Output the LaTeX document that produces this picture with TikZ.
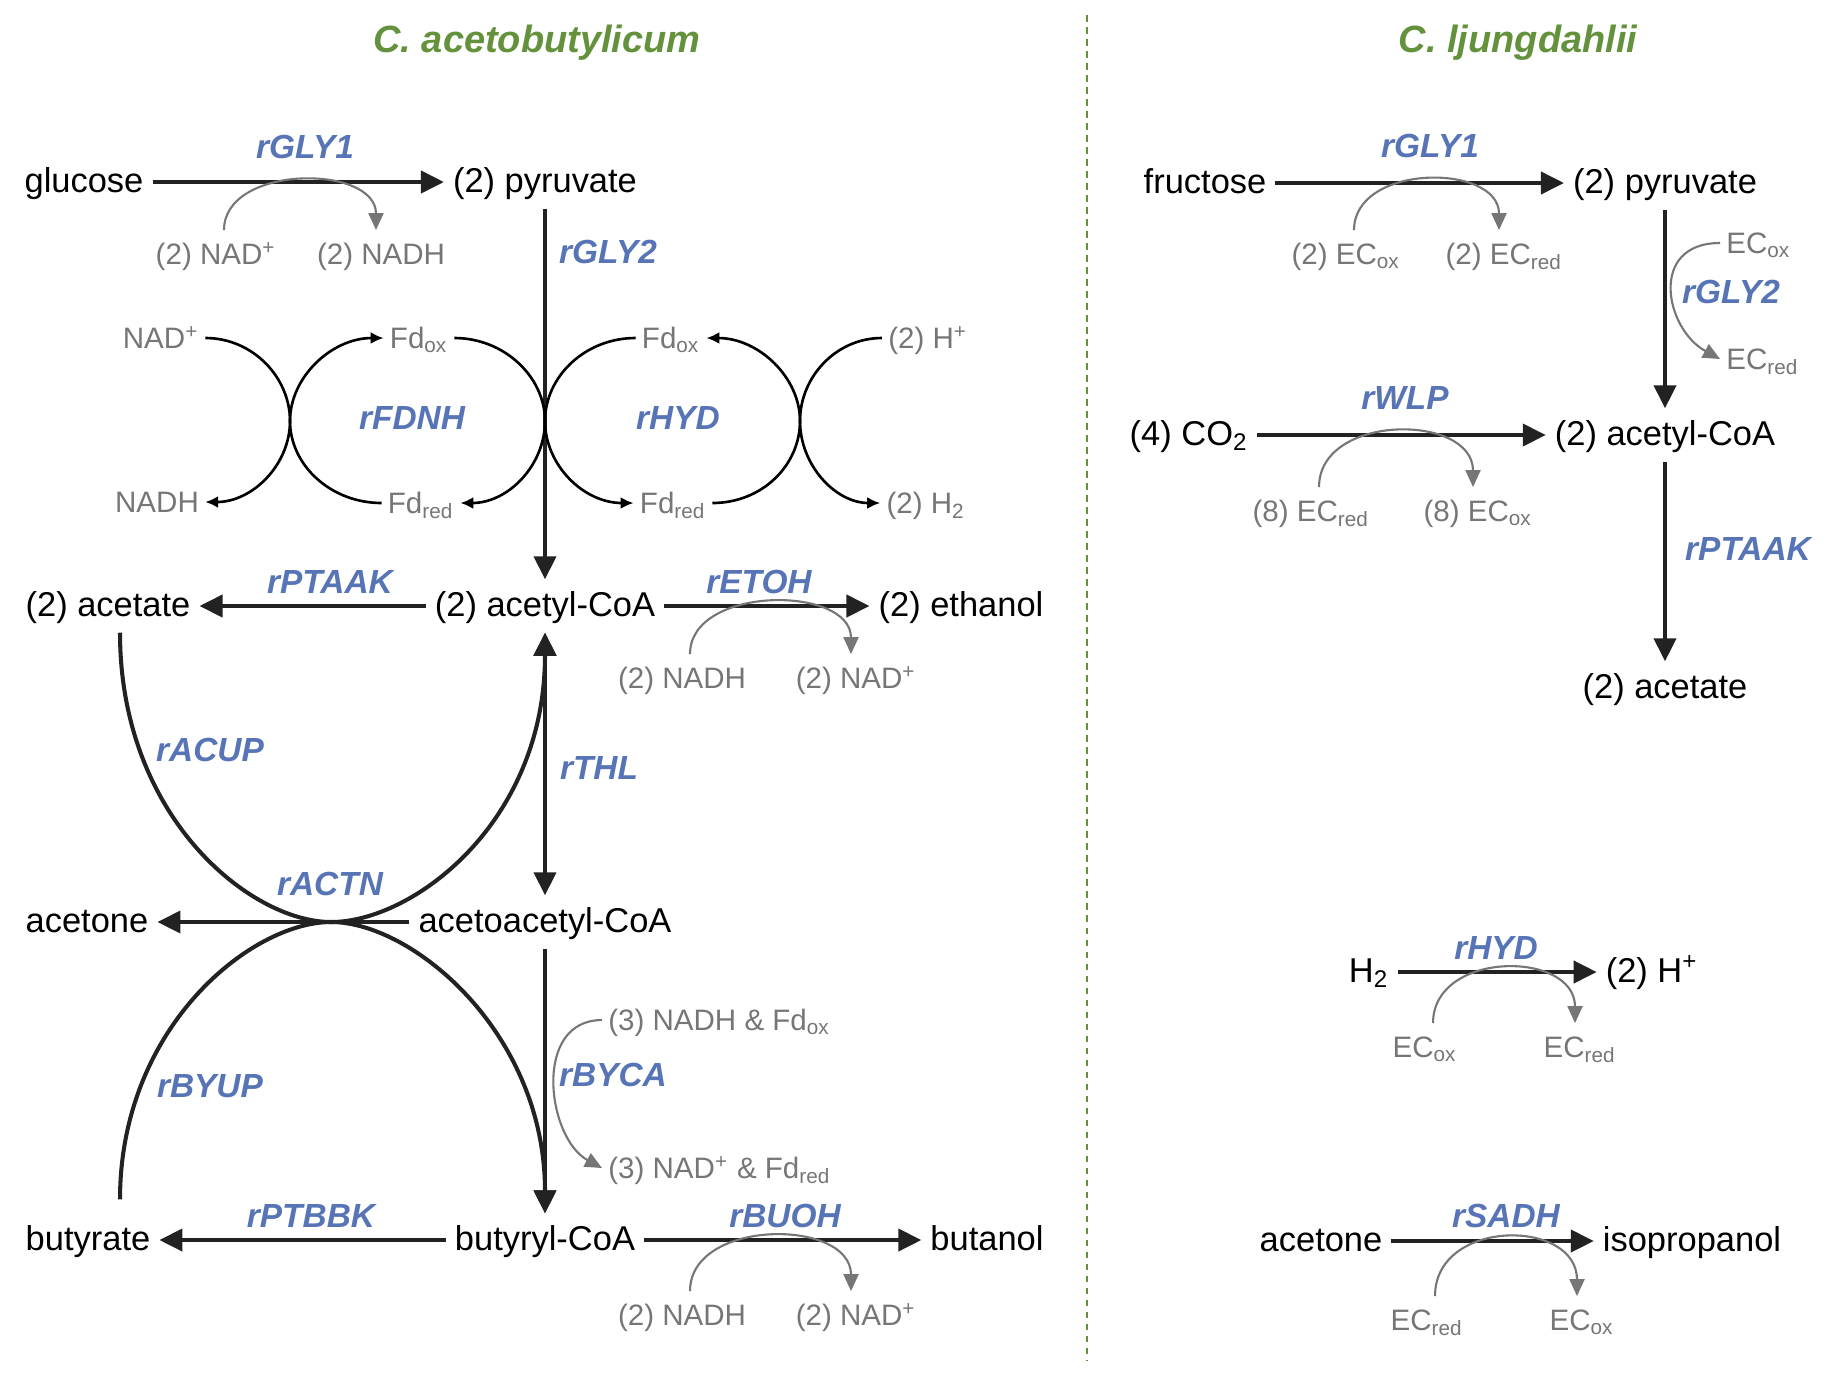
\documentclass[tikz,border=0pt]{standalone}
\usepackage{fontspec}
\setmainfont{Liberation Sans}
\usepackage{xcolor}
\definecolor{rxnblue}{RGB}{86,116,182}
\definecolor{orggreen}{RGB}{100,146,60}
\definecolor{cofgray}{RGB}{118,118,118}
\definecolor{rxnblack}{RGB}{34,34,34}
\usepackage{tikz}
\usetikzlibrary{arrows.meta,positioning,calc}

\tikzset{
  met/.style={inner sep=2.4pt, text height=0.8em, text depth=0.2em, font=\fontsize{9.8}{11}\selectfont},
  cof/.style={inner sep=1.6pt, text height=0.8em, text depth=0.2em, text=cofgray, font=\fontsize{8.4}{10}\selectfont},
  enz/.style={inner sep=0pt, text=rxnblue, font=\fontsize{9.5}{11}\selectfont\bfseries\itshape},
  orgtitle/.style={inner sep=0pt, text=orggreen, font=\fontsize{10.8}{12}\selectfont\bfseries\itshape},
  rxn/.style={draw=rxnblack, line width=1.15pt, >={Triangle[length=0.23cm,width=0.22cm]}, ->},
  cyc/.style={draw=black, line width=0.75pt, -{Latex[length=0.13cm,width=0.12cm]}},
  cofarr/.style={draw=cofgray, line width=0.6pt, -{Triangle[length=0.17cm,width=0.15cm]}},
}

\begin{document}
\begin{tikzpicture}[x=0.01cm,y=-0.01cm]
\fill[white] (0,0) rectangle (1831,1375);
\useasboundingbox (0,0) rectangle (1831,1375);

% titles and divider
\node[orgtitle] (ttlL) at (537,43) {C. acetobutylicum};
\node[orgtitle] (ttlR) at (1518,43) {C. ljungdahlii};
\draw[orggreen, line width=0.6pt, dash pattern=on 0.065cm off 0.055cm] (1087,15) -- (1087,1360);

% C. acetobutylicum metabolites
\node[met] (glc) at (84,182) {glucose};
\node[met] (pyrL) at (545,182) {(2) pyruvate};
\node[met] (acetL) at (108,606) {(2) acetate};
\node[met] (acoaL) at (545,606) {(2) acetyl-CoA};
\node[met] (etoh) at (961,606) {(2) ethanol};
\node[met] (acetone) at (87,922) {acetone};
\node[met] (aacoa) at (545,922) {acetoacetyl-CoA};
\node[met] (butyrate) at (88,1240) {butyrate};
\node[met] (bcoa) at (545,1240) {butyryl-CoA};
\node[met] (butanol) at (987,1240) {butanol};

% cofactors
\node[cof] (nad1) at (216,254) {(2) NAD\textsuperscript{+}};
\node[cof] (nadh1) at (381,254) {(2) NADH};
\node[cof] (nadh2) at (682,678) {(2) NADH};
\node[cof] (nad2) at (856,678) {(2) NAD\textsuperscript{+}};
\node[cof] (nadh3) at (682,1315) {(2) NADH};
\node[cof] (nad3) at (856,1315) {(2) NAD\textsuperscript{+}};
\node[cof,anchor=west] (byca1) at (602,1020) {(3) NADH \& Fd\textsubscript{ox}};
\node[cof,anchor=west] (byca2) at (602,1168) {(3) NAD\textsuperscript{+} \& Fd\textsubscript{red}};
\node[cof] (nadL) at (161,338) {NAD\textsuperscript{+}};
\node[cof] (nadhL) at (157,502) {NADH};
\node[cof] (fdoxL) at (419,338) {Fd\textsubscript{ox}};
\node[cof] (fdredL) at (421,503) {Fd\textsubscript{red}};
\node[cof] (fdoxR) at (671,338) {Fd\textsubscript{ox}};
\node[cof] (fdredR) at (673,503) {Fd\textsubscript{red}};
\node[cof] (hpl) at (928,338) {(2) H\textsuperscript{+}};
\node[cof] (htwo) at (926,503) {(2) H\textsubscript{2}};

% enzymes
\node[enz] (eGlyA) at (305,147) {rGLY1};
\node[enz] (eGlyB) at (608,252) {rGLY2};
\node[enz] (eFdnh) at (412,418) {rFDNH};
\node[enz] (eHyd) at (678,418) {rHYD};
\node[enz] (ePtaak) at (330,582) {rPTAAK};
\node[enz] (eEtoh) at (759,582) {rETOH};
\node[enz] (eAcup) at (210,750) {rACUP};
\node[enz] (eThl) at (599,768) {rTHL};
\node[enz] (eActn) at (330,884) {rACTN};
\node[enz] (eByup) at (210,1086) {rBYUP};
\node[enz] (eByca) at (613,1075) {rBYCA};
\node[enz] (ePtbbk) at (311,1216) {rPTBBK};
\node[enz] (eBuoh) at (785,1216) {rBUOH};

% main reactions
\draw[rxn] (glc) -- (pyrL);
\draw[rxn] (pyrL) -- (acoaL);
\draw[rxn] (acoaL) -- (acetL);
\draw[rxn] (acoaL) -- (etoh);
\draw[rxn,<->] (acoaL) -- (aacoa);
\draw[rxn] (aacoa) -- (acetone);
\draw[rxn] (aacoa) -- (bcoa);
\draw[rxn] (bcoa) -- (butyrate);
\draw[rxn] (bcoa) -- (butanol);

% CoA transferase loops
\coordinate (actn) at (331,922);
\draw[rxn] ([xshift=0.12cm]acetL.south) .. controls +(0,185) and +(-80,0) .. (actn)
  .. controls +(82,0) and +(0,190) .. (acoaL.south);
\draw[rxn] ([xshift=0.32cm,yshift=0.14cm]butyrate.north) .. controls +(0,-172) and +(-80,0) .. (actn)
  .. controls +(82,0) and +(0,-180) .. (bcoa.north);

% ferredoxin cycles
\coordinate (kissA) at (290,421);
\coordinate (kissB) at (545,421);
\coordinate (kissC) at (800,421);
\draw[cyc] (nadL.east) .. controls +(47,0) and +(0,-44) .. (kissA) .. controls +(0,44) and +(47,0) .. (nadhL.east);
\draw[cyc] (fdredL.west) .. controls +(-51,0) and +(0,44) .. (kissA) .. controls +(0,-44) and +(-52,0) .. (fdoxL.west);
\draw[cyc] (fdoxL.east) .. controls +(50,0) and +(0,-44) .. (kissB) .. controls +(0,44) and +(48,0) .. (fdredL.east);
\draw[cyc] (fdoxR.west) .. controls +(-51,0) and +(0,-44) .. (kissB) .. controls +(0,44) and +(-50,0) .. (fdredR.west);
\draw[cyc] (fdredR.east) .. controls +(50,0) and +(0,44) .. (kissC) .. controls +(0,-44) and +(52,0) .. (fdoxR.east);
\draw[cyc] (hpl.west) .. controls +(-46,0) and +(0,-44) .. (kissC) .. controls +(0,44) and +(-45,0) .. (htwo.west);

% C. ljungdahlii
\node[met] (fru) at (1205,183) {fructose};
\node[met] (pyrR) at (1665,183) {(2) pyruvate};
\node[met] (co2) at (1189,435) {(4) CO\textsubscript{2}};
\node[met] (acoaR) at (1665,435) {(2) acetyl-CoA};
\node[met] (acetR) at (1665,688) {(2) acetate};
\node[met] (htwoR) at (1369,972) {H\textsubscript{2}};
\node[met] (hplR) at (1652,972) {(2) H\textsuperscript{+}};
\node[met] (acetoneR) at (1321,1241) {acetone};
\node[met] (ipa) at (1692,1241) {isopropanol};

\node[cof] (ec1) at (1346,254) {(2) EC\textsubscript{ox}};
\node[cof] (ec2) at (1504,254) {(2) EC\textsubscript{red}};
\node[cof,anchor=west] (ec3) at (1720,243) {EC\textsubscript{ox}};
\node[cof,anchor=west] (ec4) at (1720,359) {EC\textsubscript{red}};
\node[cof] (ec5) at (1311,511) {(8) EC\textsubscript{red}};
\node[cof] (ec6) at (1478,511) {(8) EC\textsubscript{ox}};
\node[cof] (ec7) at (1425,1047) {EC\textsubscript{ox}};
\node[cof] (ec8) at (1580,1047) {EC\textsubscript{red}};
\node[cof] (ec9) at (1427,1320) {EC\textsubscript{red}};
\node[cof] (ec10) at (1582,1320) {EC\textsubscript{ox}};

\node[enz] (rGlyA) at (1430,146) {rGLY1};
\node[enz] (rGlyB) at (1731,292) {rGLY2};
\node[enz] (rWlp) at (1405,398) {rWLP};
\node[enz] (rPtaak) at (1748,549) {rPTAAK};
\node[enz] (rHyd) at (1496,948) {rHYD};
\node[enz] (rSadh) at (1506,1216) {rSADH};

\draw[rxn] (fru) -- (pyrR);
\draw[rxn] (pyrR) -- (acoaR);
\draw[rxn] (co2) -- (acoaR);
\draw[rxn] (acoaR) -- (acetR);
\draw[rxn] (htwoR) -- (hplR);
\draw[rxn] (acetoneR) -- (ipa);

% cofactor turnover
\foreach \a/\b/\h in {nad1/nadh1/66, nadh2/nad2/69, nadh3/nad3/73, ec1/ec2/67, ec5/ec6/74, ec7/ec8/73, ec9/ec10/78}
  \draw[cofarr] ([xshift=0.08cm]\a.north) .. controls +(0,-\h) and +(0,-\h) .. ([xshift=-0.05cm]\b.north);
\draw[cofarr] (byca1.west) .. controls +(-70,0) and +(-55,-30) .. (byca2.west);
\draw[cofarr] (ec3.west) .. controls +(-72,0) and +(-55,-30) .. (ec4.west);
\end{tikzpicture}
\end{document}
